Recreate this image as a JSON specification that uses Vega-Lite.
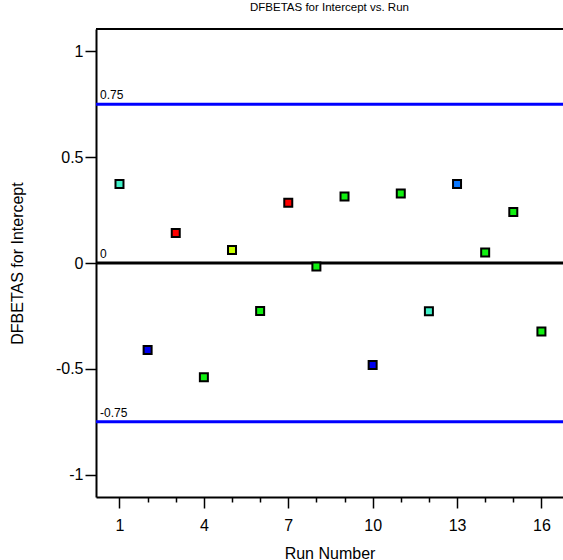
{
  "$schema": "https://vega.github.io/schema/vega-lite/v6.json",
  "autosize": "none",
  "padding": {"left": 96, "top": 29, "right": 0, "bottom": 63},
  "width": 467,
  "height": 468,
  "background": "white",
  "config": {
    "view": {"stroke": null},
    "font": "Liberation Sans",
    "axis": {"grid": false, "domainColor": "black", "domainWidth": 2, "tickColor": "black", "labelColor": "black", "titleColor": "black", "labelFont": "Liberation Sans", "titleFont": "Liberation Sans", "titleFontWeight": "normal", "labelFontSize": 16, "titleFontSize": 16}
  },
  "title": {"text": "DFBETAS for Intercept vs. Run", "fontSize": 11.5, "fontWeight": "normal", "font": "Liberation Sans", "color": "black", "baseline": "alphabetic", "offset": 6, "anchor": "middle"},
  "datasets": {
    "points": [
      {"run": 1, "dfbetas": 0.373, "grp": "turquoise"},
      {"run": 2, "dfbetas": -0.411, "grp": "blue"},
      {"run": 3, "dfbetas": 0.142, "grp": "red"},
      {"run": 4, "dfbetas": -0.540, "grp": "green"},
      {"run": 5, "dfbetas": 0.061, "grp": "yellow"},
      {"run": 6, "dfbetas": -0.227, "grp": "green"},
      {"run": 7, "dfbetas": 0.285, "grp": "red"},
      {"run": 8, "dfbetas": -0.017, "grp": "green"},
      {"run": 9, "dfbetas": 0.314, "grp": "green"},
      {"run": 10, "dfbetas": -0.482, "grp": "blue"},
      {"run": 11, "dfbetas": 0.328, "grp": "green"},
      {"run": 12, "dfbetas": -0.228, "grp": "turquoise"},
      {"run": 13, "dfbetas": 0.373, "grp": "azure"},
      {"run": 14, "dfbetas": 0.050, "grp": "green"},
      {"run": 15, "dfbetas": 0.241, "grp": "green"},
      {"run": 16, "dfbetas": -0.323, "grp": "green"}
    ],
    "refs": [
      {"value": 0.75, "label": "0.75"},
      {"value": 0, "label": "0"},
      {"value": -0.75, "label": "-0.75"}
    ]
  },
  "resolve": {"axis": {"x": "independent"}},
  "layer": [
    {
      "data": {"name": "points"},
      "mark": {"type": "point", "opacity": 0},
      "encoding": {
        "x": {"field": "run", "type": "quantitative", "scale": {"domain": [0.165, 16.767], "nice": false, "zero": false},
          "axis": {"orient": "bottom", "title": "Run Number", "values": [1, 4, 7, 10, 13, 16],
            "labelExpr": "toString(datum.value)",
            "labelOverlap": false, "labelBound": false, "labelFlush": false,
            "tickSize": 11, "tickWidth": 1.5, "labelPadding": 9, "titleY": 61, "titleBaseline": "alphabetic"}},
        "y": {"field": "dfbetas", "type": "quantitative", "scale": {"domain": [-1.105, 1.105], "nice": false, "zero": false},
          "axis": {"title": "DFBETAS for Intercept", "values": [-1, -0.5, 0, 0.5, 1], "labelExpr": "toString(datum.value)", "tickSize": 11, "tickWidth": 1.5, "labelPadding": 2, "titleX": -74, "titleBaseline": "alphabetic", "titleAngle": -90}}
      }
    },
    {
      "data": {"name": "points"},
      "mark": {"type": "point", "opacity": 0},
      "encoding": {
        "x": {"field": "run", "type": "quantitative",
          "axis": {"orient": "bottom", "title": null, "labels": false, "domain": false, "values": [2, 3, 5, 6, 8, 9, 11, 12, 14, 15], "tickSize": 5, "tickWidth": 1.5}},
        "y": {"field": "dfbetas", "type": "quantitative"}
      }
    },
    {
      "data": {"name": "refs"},
      "mark": {"type": "rule", "strokeWidth": 3},
      "encoding": {
        "y": {"field": "value", "type": "quantitative"},
        "stroke": {"condition": {"test": "datum.value === 0", "value": "black"}, "value": "#0000ff"}
      }
    },
    {
      "data": {"name": "refs"},
      "mark": {"type": "text", "align": "left", "baseline": "alphabetic", "dx": 4, "dy": -5, "fontSize": 12, "color": "black"},
      "encoding": {
        "x": {"datum": 0.165, "axis": null},
        "y": {"field": "value", "type": "quantitative"},
        "text": {"field": "label"}
      }
    },
    {
      "data": {"values": [{"top": 1.105}]},
      "mark": {"type": "rule", "strokeWidth": 2, "color": "black"},
      "encoding": {"y": {"field": "top", "type": "quantitative"}}
    },
    {
      "data": {"name": "points"},
      "mark": {"type": "point", "shape": "square", "filled": false, "size": 64, "strokeWidth": 2, "stroke": "black", "opacity": 1},
      "encoding": {
        "x": {"field": "run", "type": "quantitative", "axis": null},
        "y": {"field": "dfbetas", "type": "quantitative"},
        "fill": {"field": "grp", "type": "nominal", "legend": null,
          "scale": {"domain": ["turquoise", "blue", "red", "green", "yellow", "azure"], "range": ["#40f0c8", "#0000f0", "#ff0000", "#10f010", "#c8ff00", "#0a78ff"]}}
      }
    }
  ]
}
